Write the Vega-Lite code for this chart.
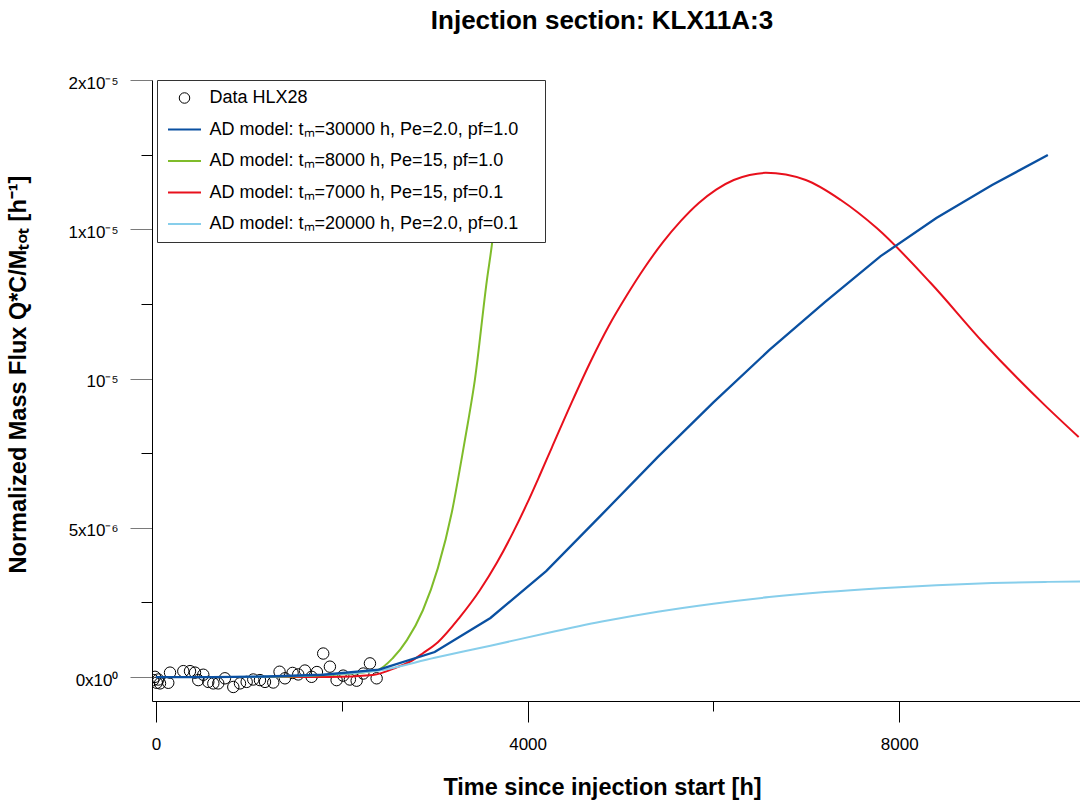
{
  "$schema": "https://vega.github.io/schema/vega-lite/v6.json",
  "width": 928,
  "height": 621,
  "autosize": {"type": "none"},
  "padding": {"left": 152, "top": 80, "right": 0, "bottom": 101},
  "background": "white",
  "title": {"text": "Injection section: KLX11A:3", "font": "Liberation Sans", "fontSize": 26, "fontWeight": "bold", "color": "black", "anchor": "middle", "frame": "group", "dx": -14, "offset": 40},
  "config": {
    "view": {"stroke": null},
    "axis": {"labelFont": "Liberation Sans", "labelFontSize": 17, "labelColor": "black", "titleFont": "Liberation Sans", "titleFontSize": 23.5, "titleFontWeight": "bold", "titleColor": "black", "domainColor": "black", "domainWidth": 1, "tickColor": "black", "tickWidth": 1, "grid": false}
  },
  "datasets": {
    "obs": [
      {"t": -30, "v": -1.0e-7}, {"t": 8, "v": -1.9e-7}, {"t": 25, "v": -0.8e-7}, {"t": -11, "v": 0.1e-7}, {"t": 43, "v": -2.1e-7},
      {"t": 132, "v": -1.9e-7}, {"t": 151, "v": 1.5e-7}, {"t": 294, "v": 2.0e-7}, {"t": 366, "v": 2.0e-7}, {"t": 420, "v": 1.5e-7},
      {"t": 455, "v": -1.0e-7}, {"t": 509, "v": 0.8e-7}, {"t": 563, "v": -1.6e-7}, {"t": 617, "v": -2.1e-7}, {"t": 670, "v": -2.1e-7},
      {"t": 742, "v": -0.4e-7}, {"t": 832, "v": -3.3e-7}, {"t": 904, "v": -2.1e-7}, {"t": 976, "v": -1.6e-7}, {"t": 1047, "v": -0.8e-7},
      {"t": 1119, "v": -1.0e-7}, {"t": 1173, "v": -1.6e-7}, {"t": 1262, "v": -1.8e-7}, {"t": 1330, "v": 1.8e-7}, {"t": 1388, "v": -0.4e-7},
      {"t": 1470, "v": 1.4e-7}, {"t": 1531, "v": 0.9e-7}, {"t": 1603, "v": 2.2e-7}, {"t": 1675, "v": 0.1e-7}, {"t": 1732, "v": 1.7e-7},
      {"t": 1800, "v": 7.9e-7}, {"t": 1872, "v": 3.5e-7}, {"t": 1944, "v": -1.0e-7}, {"t": 2015, "v": 0.5e-7}, {"t": 2087, "v": -0.8e-7},
      {"t": 2160, "v": -1.2e-7}, {"t": 2231, "v": 1.2e-7}, {"t": 2303, "v": 4.6e-7}, {"t": 2375, "v": -0.4e-7}
    ],
    "tm30000": [
      {"t": 0, "v": 0}, {"t": 600, "v": 0}, {"t": 1200, "v": 0.2e-7}, {"t": 1800, "v": 0.8e-7}, {"t": 2400, "v": 2.5e-7},
      {"t": 3000, "v": 8.4e-7}, {"t": 3600, "v": 1.98e-6}, {"t": 4200, "v": 3.55e-6}, {"t": 4800, "v": 5.45e-6}, {"t": 5400, "v": 7.37e-6},
      {"t": 6000, "v": 9.2e-6}, {"t": 6600, "v": 1.095e-5}, {"t": 7200, "v": 1.256e-5}, {"t": 7800, "v": 1.41e-5}, {"t": 8400, "v": 1.538e-5},
      {"t": 9000, "v": 1.648e-5}, {"t": 9600, "v": 1.749e-5}
    ],
    "tm8000": [
      {"t": 0, "v": 0}, {"t": 1000, "v": 0}, {"t": 1872, "v": 0.7e-7}, {"t": 2378, "v": 2.3e-7}, {"t": 2550, "v": 6.4e-7},
      {"t": 2701, "v": 1.24e-6}, {"t": 2873, "v": 2.24e-6}, {"t": 3034, "v": 3.65e-6}, {"t": 3185, "v": 5.53e-6}, {"t": 3293, "v": 7.37e-6},
      {"t": 3357, "v": 8.51e-6}, {"t": 3432, "v": 9.95e-6}, {"t": 3562, "v": 1.33e-5}, {"t": 3615, "v": 1.447e-5}, {"t": 3701, "v": 1.698e-5},
      {"t": 3788, "v": 1.96e-5}, {"t": 3870, "v": 2.25e-5}
    ],
    "tm7000": [
      {"t": 0, "v": 0}, {"t": 1000, "v": 0}, {"t": 1872, "v": 0}, {"t": 2335, "v": 0.7e-7}, {"t": 2593, "v": 3.3e-7},
      {"t": 2765, "v": 5.7e-7}, {"t": 2873, "v": 8.0e-7}, {"t": 3034, "v": 1.17e-6}, {"t": 3271, "v": 2.01e-6}, {"t": 3486, "v": 2.91e-6},
      {"t": 3669, "v": 3.83e-6}, {"t": 3841, "v": 4.83e-6}, {"t": 3992, "v": 5.8e-6}, {"t": 4132, "v": 6.77e-6}, {"t": 4261, "v": 7.69e-6},
      {"t": 4470, "v": 9.17e-6}, {"t": 4681, "v": 1.059e-5}, {"t": 4875, "v": 1.177e-5}, {"t": 5068, "v": 1.279e-5}, {"t": 5260, "v": 1.372e-5},
      {"t": 5455, "v": 1.456e-5}, {"t": 5650, "v": 1.528e-5}, {"t": 5843, "v": 1.588e-5}, {"t": 6030, "v": 1.633e-5}, {"t": 6219, "v": 1.665e-5},
      {"t": 6390, "v": 1.682e-5}, {"t": 6564, "v": 1.689e-5}, {"t": 6994, "v": 1.665e-5},
      {"t": 7371, "v": 1.598e-5}, {"t": 7758, "v": 1.504e-5}, {"t": 8339, "v": 1.32e-5}, {"t": 8909, "v": 1.119e-5}, {"t": 9566, "v": 9.11e-6},
      {"t": 9932, "v": 8.04e-6}
    ],
    "tm20000": [
      {"t": 0, "v": 0}, {"t": 600, "v": 0}, {"t": 1200, "v": 0.2e-7}, {"t": 1800, "v": 0.8e-7}, {"t": 2400, "v": 2.2e-7},
      {"t": 3000, "v": 6.5e-7}, {"t": 3600, "v": 1.05e-6}, {"t": 4200, "v": 1.47e-6}, {"t": 4800, "v": 1.86e-6}, {"t": 5400, "v": 2.19e-6},
      {"t": 6000, "v": 2.46e-6}, {"t": 6600, "v": 2.68e-6}, {"t": 7200, "v": 2.85e-6}, {"t": 7800, "v": 2.98e-6}, {"t": 8400, "v": 3.08e-6},
      {"t": 9000, "v": 3.15e-6}, {"t": 9600, "v": 3.19e-6}, {"t": 10200, "v": 3.21e-6}
    ]
  },
  "encoding": {
    "x": {
      "field": "t", "type": "quantitative",
      "scale": {"domain": [-43, 9946], "nice": false, "zero": false},
      "axis": {
        "values": [0, 2000, 4000, 6000, 8000],
        "format": "d",
        "labelExpr": "datum.value % 4000 === 0 ? datum.label : ''",
        "tickSize": {"condition": {"test": "datum.value % 4000 === 0", "value": 21}, "value": 10},
        "labelPadding": 14,
        "title": "Time since injection start [h]",
        "titleX": 450, "titleY": 86, "titleBaseline": "middle"
      }
    },
    "y": {
      "field": "v", "type": "quantitative",
      "scale": {"domain": [-8e-7, 2e-5], "nice": false, "zero": false},
      "axis": {
        "values": [0, 2.5e-6, 5e-6, 7.5e-6, 1e-5, 1.25e-5, 1.5e-5, 1.75e-5, 2e-5],
        "labelExpr": "datum.value === 0 ? '0x10\u2070' : abs(datum.value - 5e-6) < 1e-9 ? '5x10\u207b\u2076' : abs(datum.value - 1e-5) < 1e-9 ? '10\u207b\u2075' : abs(datum.value - 1.5e-5) < 1e-9 ? '1x10\u207b\u2075' : abs(datum.value - 2e-5) < 1e-9 ? '2x10\u207b\u2075' : ''",
        "tickSize": {"condition": {"test": "abs(datum.value / 5e-6 - round(datum.value / 5e-6)) < 0.01", "value": 22}, "value": 11},
        "tickColor": {"condition": {"test": "abs(datum.value / 5e-6 - round(datum.value / 5e-6)) < 0.01", "value": "#7a7a7a"}, "value": "black"},
        "labelPadding": 12,
        "labelOffset": 3,
        "title": "Normalized Mass Flux  Q*C/M\u209c\u2092\u209c  [h\u207b\u00b9]",
        "titleX": -134, "titleY": 294, "titleBaseline": "middle", "titleAngle": -90
      }
    },
    "color": {
      "scale": {
        "domain": ["Data HLX28", "AD model: t\u2098=30000 h, Pe=2.0, pf=1.0", "AD model: t\u2098=8000 h, Pe=15, pf=1.0", "AD model: t\u2098=7000 h, Pe=15, pf=0.1", "AD model: t\u2098=20000 h, Pe=2.0, pf=0.1"],
        "range": ["black", "#0a50a1", "#7fbc2a", "#e8101c", "#87ceeb"]
      },
      "legend": {
        "title": "\u00a0",
        "titleOrient": "right",
        "titleFontSize": 18,
        "titlePadding": 18,
        "orient": "none", "legendX": 5, "legendY": 0,
        "padding": 9,
        "strokeColor": "#333333",
        "fillColor": "white",
        "labelFont": "Liberation Sans", "labelFontSize": 18, "labelColor": "black", "labelLimit": 600,
        "symbolSize": 100, "symbolOffset": 9.5, "labelOffset": 16, "rowPadding": 13.5,
        "symbolStrokeWidth": 2,
        "encode": {
          "symbols": {
            "update": {
              "shape": {"signal": "datum.value === 'Data HLX28' ? 'circle' : 'stroke'"},
              "size": {"signal": "datum.value === 'Data HLX28' ? 110 : 1089"},
              "strokeWidth": {"signal": "datum.value === 'Data HLX28' ? 1 : 2"},
              "fill": {"value": "transparent"},
              "opacity": {"value": 1}
            }
          }
        }
      }
    }
  },
  "layer": [
    {"data": {"name": "obs"}, "mark": {"type": "point", "shape": "circle", "filled": false, "size": 130, "strokeWidth": 1, "opacity": 1, "clip": true}, "encoding": {"color": {"datum": "Data HLX28", "type": "nominal"}}},
    {"data": {"name": "tm7000"}, "mark": {"type": "line", "strokeWidth": 2, "interpolate": "monotone", "clip": true}, "encoding": {"color": {"datum": "AD model: t\u2098=7000 h, Pe=15, pf=0.1", "type": "nominal"}}},
    {"data": {"name": "tm8000"}, "mark": {"type": "line", "strokeWidth": 2, "interpolate": "monotone", "clip": true}, "encoding": {"color": {"datum": "AD model: t\u2098=8000 h, Pe=15, pf=1.0", "type": "nominal"}}},
    {"data": {"name": "tm20000"}, "mark": {"type": "line", "strokeWidth": 2, "interpolate": "monotone", "clip": true}, "encoding": {"color": {"datum": "AD model: t\u2098=20000 h, Pe=2.0, pf=0.1", "type": "nominal"}}},
    {"data": {"name": "tm30000"}, "mark": {"type": "line", "strokeWidth": 2.3, "clip": true}, "encoding": {"color": {"datum": "AD model: t\u2098=30000 h, Pe=2.0, pf=1.0", "type": "nominal"}}}
  ]
}
